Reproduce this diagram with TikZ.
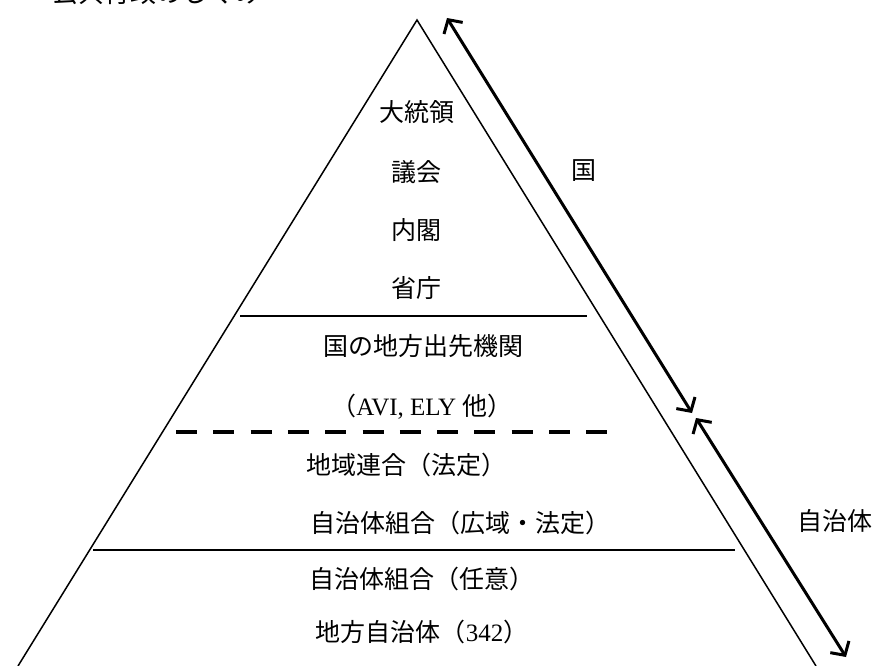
\documentclass[tikz,border=0pt]{standalone}
\usepackage{fontspec}
\setmainfont{Liberation Serif}
\newfontfamily\cjk{Noto Sans CJK JP}
\usetikzlibrary{arrows.meta}
\tikzset{
  lbl/.style={font=\cjk\fontsize{25}{30}\selectfont, inner sep=0pt},
  edge/.style={line width=1.5pt},
  sep/.style={line width=1.5pt},
  dsep/.style={line width=4pt, dash pattern=on 21pt off 16.3pt},
  span/.style={line width=3pt, {Straight Barb[length=10pt,width=22pt,line width=3pt]}-{Straight Barb[length=10pt,width=22pt,line width=3pt]}}
}
\begin{document}
\begin{tikzpicture}[x=1pt,y=-1pt]
\clip (0,0) rectangle (876,666);
\fill[white] (0,0) rectangle (876,666);
% title (cut off at top)
\node[font=\cjk\fontsize{26}{30}\selectfont, inner sep=0pt, anchor=base east] (title) at (262,3) {図1\hspace{52pt}公共行政のしくみ};
% triangle
\coordinate (apex) at (417,20);
\coordinate (bl) at (18,666);
\coordinate (br) at (816,666);
\draw[edge] (bl) -- (apex) -- (br);
% separators
\coordinate (s1a) at (240,316); \coordinate (s1b) at (587,316);
\coordinate (s2a) at (176,432); \coordinate (s2b) at (607,432);
\coordinate (s3a) at (93,550);  \coordinate (s3b) at (735,550);
\draw[sep] (s1a) -- (s1b);
\draw[dsep] (s2a) -- (s2b);
\draw[sep] (s3a) -- (s3b);
% labels
\node[lbl] (t1) at (417,112) {大統領};
\node[lbl] (t2) at (416,172) {議会};
\node[lbl] (t3) at (416,230) {内閣};
\node[lbl] (t4) at (416,288) {省庁};
\node[lbl] (t5) at (423,346) {国の地方出先機関};
\node[lbl] (t6) at (422,407) {（{\rmfamily AVI, ELY }他）};
\node[lbl, anchor=west] (t7) at (306,465) {地域連合（法定）};
\node[lbl, anchor=west] (t8) at (310,523) {自治体組合（広域・法定）};
\node[lbl] (t9) at (422,579) {自治体組合（任意）};
\node[lbl] (t10) at (422,632) {地方自治体（{\rmfamily 342}）};
% side arrows
\coordinate (k1) at (447,18);
\coordinate (k2) at (692,413);
\coordinate (j1) at (696,418);
\coordinate (j2) at (846,657);
\draw[span] (k1) -- (k2);
\draw[span] (j1) -- (j2);
\node[lbl] (kuni) at (584,171) {国};
\node[lbl] (jichi) at (835,521) {自治体};
\end{tikzpicture}
\end{document}
